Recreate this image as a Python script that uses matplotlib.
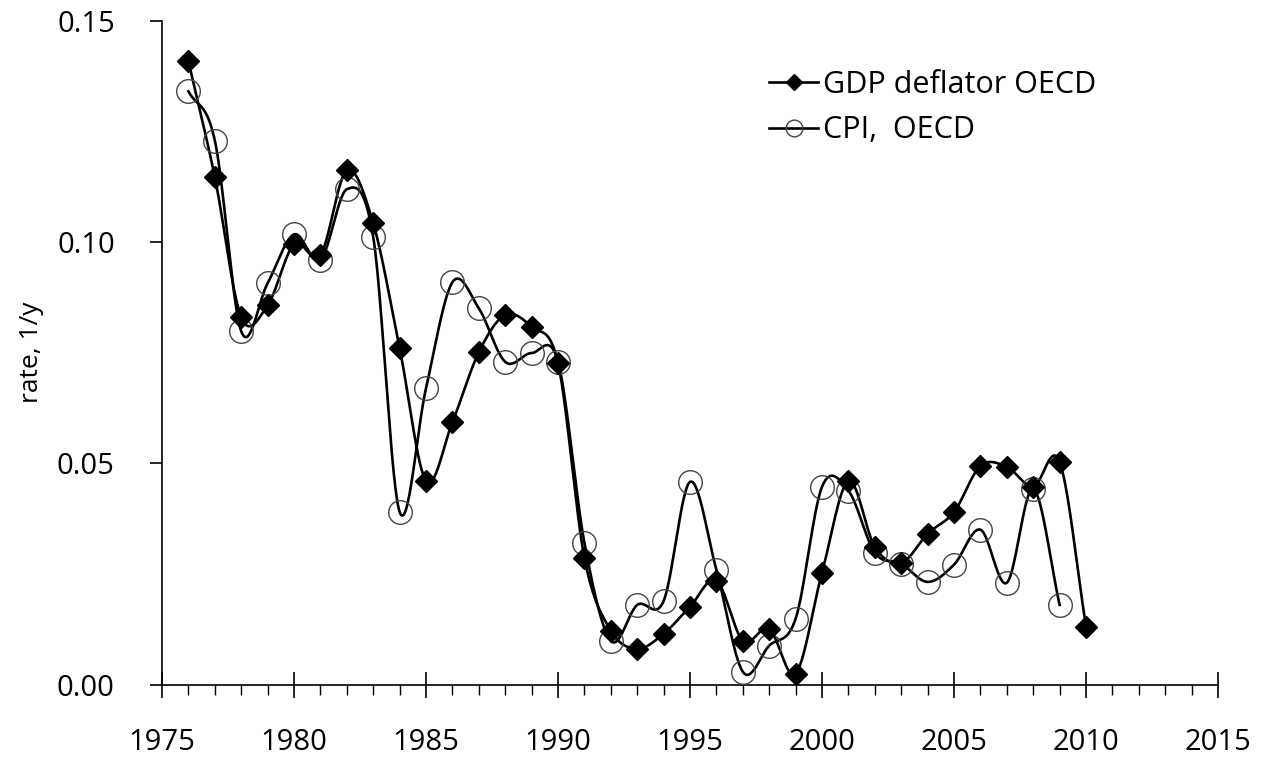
import numpy as np
import matplotlib
matplotlib.use("Agg")
import matplotlib.pyplot as plt
from matplotlib.ticker import MultipleLocator, FormatStrFormatter

# ── DATA ──────────────────────────────────────────────────────────────────────

gdp_years = list(range(1976, 2011))
gdp_rate = [0.1408, 0.1146, 0.0830, 0.0857, 0.0995, 0.0970, 0.1162, 0.1042,
            0.0760, 0.0460, 0.0593, 0.0751, 0.0835, 0.0808, 0.0726, 0.0286,
            0.0122, 0.0081, 0.0115, 0.0176, 0.0235, 0.0099, 0.0126, 0.0025,
            0.0253, 0.0460, 0.0311, 0.0275, 0.0341, 0.0390, 0.0494, 0.0492,
            0.0447, 0.0503, 0.0131]

cpi_years = list(range(1976, 2010))
cpi_rate = [0.1340, 0.1229, 0.0798, 0.0907, 0.1017, 0.0959, 0.1119, 0.1011,
            0.0390, 0.0670, 0.0909, 0.0850, 0.0729, 0.0749, 0.0729, 0.0320,
            0.0099, 0.0180, 0.0189, 0.0458, 0.0259, 0.0029, 0.0088, 0.0149,
            0.0447, 0.0438, 0.0298, 0.0273, 0.0232, 0.0271, 0.0350, 0.0230,
            0.0442, 0.0180]

LABELS = ["GDP deflator OECD", "CPI,  OECD"]

# ── HELPERS ───────────────────────────────────────────────────────────────────

def smooth_line(x, y, n=30):
    """Catmull-Rom curve through the points (like Excel's smoothed line)."""
    x = np.asarray(x, float)
    y = np.asarray(y, float)
    px = np.concatenate([[2 * x[0] - x[1]], x, [2 * x[-1] - x[-2]]])
    py = np.concatenate([[2 * y[0] - y[1]], y, [2 * y[-1] - y[-2]]])
    xs, ys = [], []
    t = np.linspace(0, 1, n, endpoint=False)[:, None]
    for i in range(1, len(px) - 2):
        p0, p1, p2, p3 = [np.array([px[j], py[j]]) for j in (i - 1, i, i + 1, i + 2)]
        pts = 0.5 * ((2 * p1) + (-p0 + p2) * t
                     + (2 * p0 - 5 * p1 + 4 * p2 - p3) * t ** 2
                     + (-p0 + 3 * p1 - 3 * p2 + p3) * t ** 3)
        xs.extend(pts[:, 0])
        ys.extend(pts[:, 1])
    xs.append(x[-1])
    ys.append(y[-1])
    return np.array(xs), np.array(ys)


# ── FIGURE ────────────────────────────────────────────────────────────────────

plt.rcParams["font.family"] = ["Open Sans", "DejaVu Sans"]

fig = plt.figure(figsize=(12.68, 7.65), dpi=100)
ax = fig.add_axes([0.1278, 0.1051, 0.8328, 0.868])

gx, gy = smooth_line(gdp_years, gdp_rate)
cx, cy = smooth_line(cpi_years, cpi_rate)

LW = 1.9
ax.plot(gx, gy, color="black", lw=LW, zorder=2)
ax.plot(cx, cy, color="black", lw=LW, zorder=2)
ax.plot(cpi_years, cpi_rate, ls="none", marker="o", ms=17, mfc="none",
        mec="#444444", mew=1.0, zorder=3)
ax.plot(gdp_years, gdp_rate, ls="none", marker="D", ms=11, mfc="black",
        mec="black", zorder=4)

# legend proxies
ax.plot([], [], color="black", lw=LW, marker="D", ms=8, label=LABELS[0])
ax.plot([], [], color="black", lw=LW, marker="o", ms=12, mfc="none",
        mec="#444444", mew=1.0, label=LABELS[1])
ax.legend(loc="upper left", bbox_to_anchor=(0.549, 0.967), frameon=False,
          fontsize=22, handlelength=1.6, handletextpad=0.15, labelspacing=0.5)

ax.set_xlim(1975, 2015)
ax.set_ylim(0, 0.15)
ax.xaxis.set_major_locator(MultipleLocator(5))
ax.xaxis.set_minor_locator(MultipleLocator(1))
ax.yaxis.set_major_locator(MultipleLocator(0.05))
ax.yaxis.set_major_formatter(FormatStrFormatter("%.2f"))

ax.spines["top"].set_visible(False)
ax.spines["right"].set_visible(False)
for s in ("left", "bottom"):
    ax.spines[s].set_linewidth(1.2)

ax.tick_params(axis="x", which="major", direction="inout", length=19, width=1.2,
               labelsize=21, pad=22)
ax.tick_params(axis="x", which="minor", direction="out", length=7, width=1.0)
ax.tick_params(axis="y", which="major", direction="out", length=9, width=1.2,
               labelsize=21, pad=25)

ax.set_ylabel("rate, 1/y", fontsize=19, labelpad=9)

fig.savefig("out.png", dpi=100)
